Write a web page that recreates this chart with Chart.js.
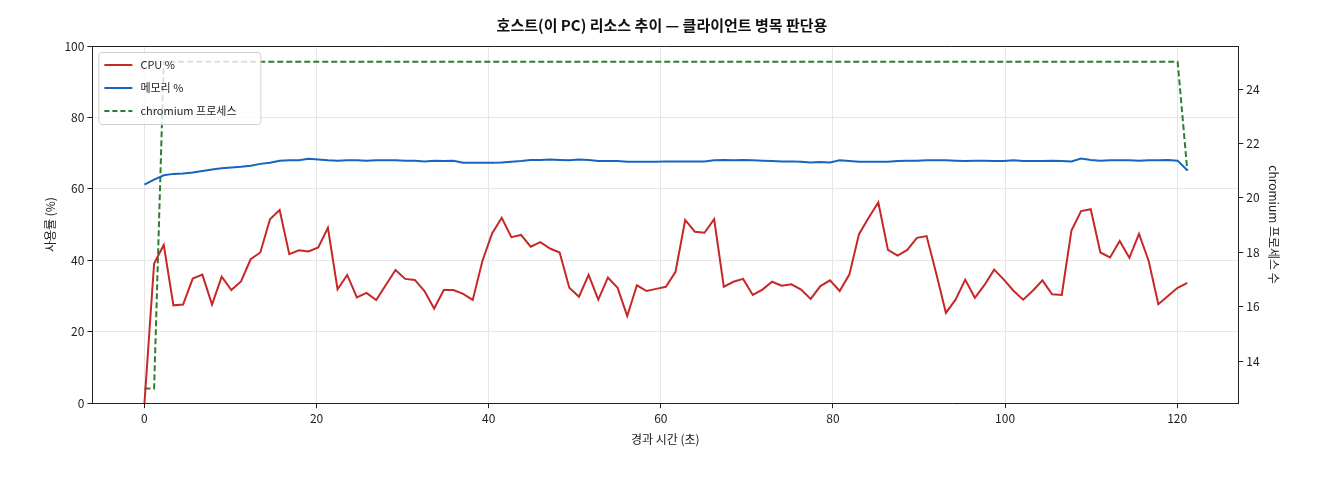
<!DOCTYPE html>
<html><head><meta charset="utf-8">
<script src="https://cdn.jsdelivr.net/npm/chart.js@4"></script>
<style>html,body{margin:0;background:#fff}#w{width:1320px;height:480px}</style>
</head><body><div id="w"><canvas id="c"></canvas></div>
<script>
const sampleStep = 1.122;
const cpuValues = [0,39.1,44.3,27.4,27.6,34.9,36.0,27.6,35.4,31.7,34.1,40.3,42.2,51.5,54.1,41.7,42.8,42.5,43.6,49.1,31.9,35.9,29.6,30.9,28.9,33.1,37.3,34.8,34.5,31.4,26.5,31.7,31.7,30.6,28.9,39.8,47.5,
51.9,46.5,47.1,43.8,45.1,43.3,42.2,32.3,29.8,35.9,29.0,35.2,32.3,24.4,33.0,31.4,32.0,32.6,36.8,51.3,48.0,47.7,51.5,32.6,34.0,34.8,30.3,31.8,34.0,32.9,33.3,31.8,29.2,32.8,34.4,31.4,
36.0,47.3,51.9,56.2,42.9,41.3,42.9,46.3,46.8,36.3,25.3,29.0,34.6,29.5,33.1,37.4,34.6,31.5,29.0,31.5,34.4,30.5,30.3,48.3,53.8,54.3,42.2,40.8,45.4,40.7,47.4,39.8,27.7,30.0,32.3,33.7];
const memValues = [61.2,62.6,63.8,64.2,64.3,64.6,65.0,65.4,65.8,66.0,66.2,66.5,67.0,67.3,67.9,68.0,68.0,68.4,68.2,68.0,
67.9,68.0,68.0,67.9,68.0,68.0,68.0,67.9,67.9,67.7,67.9,67.8,67.9,67.3,67.3,67.3,67.3,67.4,67.6,67.8,
68.1,68.1,68.2,68.1,68.0,68.2,68.1,67.8,67.8,67.8,67.6,67.6,67.6,67.6,67.7,67.7,67.7,67.7,67.7,68.0,
68.1,68.0,68.1,68.0,67.9,67.8,67.7,67.7,67.6,67.4,67.5,67.4,68.0,67.8,67.6,67.6,67.6,67.6,67.8,67.9,
67.9,68.0,68.0,68.0,67.9,67.8,67.9,67.9,67.8,67.8,68.0,67.8,67.8,67.8,67.9,67.8,67.7,68.5,68.1,67.9,
68.0,68.0,68.0,67.9,68.0,68.0,68.1,67.9,65.2];
const procValues = [13,13,25,25,25,25,25,25,25,25,25,25,25,25,25,25,25,25,25,25,
25,25,25,25,25,25,25,25,25,25,25,25,25,25,25,25,25,25,25,25,
25,25,25,25,25,25,25,25,25,25,25,25,25,25,25,25,25,25,25,25,
25,25,25,25,25,25,25,25,25,25,25,25,25,25,25,25,25,25,25,25,
25,25,25,25,25,25,25,25,25,25,25,25,25,25,25,25,25,25,25,25,
25,25,25,25,25,25,25,25,21];
const seriesNames = ['CPU %','메모리 %','chromium 프로세스'];
const FONT = "'Noto Sans CJK KR', 'DejaVu Sans', sans-serif";
const pts = a => a.map((v,i)=>({x:i*sampleStep,y:v}));

const legendPlugin = {id:'lg',afterDraw(ch){
  const c=ch.ctx,a=ch.chartArea;
  c.save();c.strokeStyle='#222';c.lineWidth=1;
  c.beginPath();c.moveTo(a.left,a.top+0.5);c.lineTo(a.right,a.top+0.5);c.stroke();
  const x0=a.left+6,y0=a.top+6,w=162,h=72;
  c.fillStyle='rgba(255,255,255,0.8)';c.strokeStyle='#d0d0d0';
  c.beginPath();c.roundRect(x0+0.5,y0+0.5,w,h,3);c.fill();c.stroke();
  const cols=['#c62828','#1565c0','#2e7d32'];
  c.font='11px '+FONT;c.textBaseline='middle';c.fillStyle='#222';
  seriesNames.forEach((n,i)=>{const y=y0+13+i*23;
    c.strokeStyle=cols[i];c.lineWidth=2;c.setLineDash(i==2?[5,3]:[]);
    c.beginPath();c.moveTo(x0+6,y);c.lineTo(x0+34,y);c.stroke();c.setLineDash([]);
    c.fillText(n,x0+42,y);});
  c.restore();}};

new Chart(document.getElementById('c'),{type:'line',
 data:{datasets:[
  {label:seriesNames[0],data:pts(cpuValues),borderColor:'#c62828',borderWidth:2,pointRadius:0,yAxisID:'y'},
  {label:seriesNames[1],data:pts(memValues),borderColor:'#1565c0',borderWidth:2,pointRadius:0,yAxisID:'y'},
  {label:seriesNames[2],data:pts(procValues),borderColor:'#2e7d32',borderWidth:2,borderDash:[6,3],pointRadius:0,yAxisID:'y1'}]},
 options:{responsive:true,maintainAspectRatio:false,animation:false,
  layout:{padding:{left:39,right:35,top:8,bottom:29}},
  plugins:{legend:{display:false},tooltip:{enabled:false},
   title:{display:true,text:'호스트(이 PC) 리소스 추이 — 클라이언트 병목 판단용',color:'#111',font:{family:FONT,size:15},padding:{top:8,bottom:12}}},
  scales:{
   x:{type:'linear',min:-6.05,max:127.1,afterBuildTicks(s){s.ticks=[0,20,40,60,80,100,120].map(v=>({value:v}));},
     grid:{color:'#e6e6e6',drawTicks:true,tickColor:'#222',tickLength:5},border:{color:'#222'},
     ticks:{color:'#222',font:{family:FONT,size:12}},
     title:{display:true,text:'경과 시간 (초)',color:'#222',font:{family:FONT,size:12}}},
   y:{position:'left',min:0,max:100,ticks:{stepSize:20,color:'#222',font:{family:FONT,size:12}},
     grid:{color:'#e6e6e6',tickColor:'#222',tickLength:5},border:{color:'#222'},
     title:{display:true,text:'사용률 (%)',color:'#222',font:{family:FONT,size:12}}},
   y1:{position:'right',min:12.46,max:25.58,afterBuildTicks(s){s.ticks=[14,16,18,20,22,24].map(v=>({value:v}));},
     ticks:{color:'#222',font:{family:FONT,size:12}},grid:{drawOnChartArea:false,tickColor:'#222',tickLength:5},border:{color:'#222'},
     title:{display:true,text:'chromium 프로세스 수',color:'#222',font:{family:FONT,size:12}}}}},
 plugins:[legendPlugin]});
</script></body></html>
